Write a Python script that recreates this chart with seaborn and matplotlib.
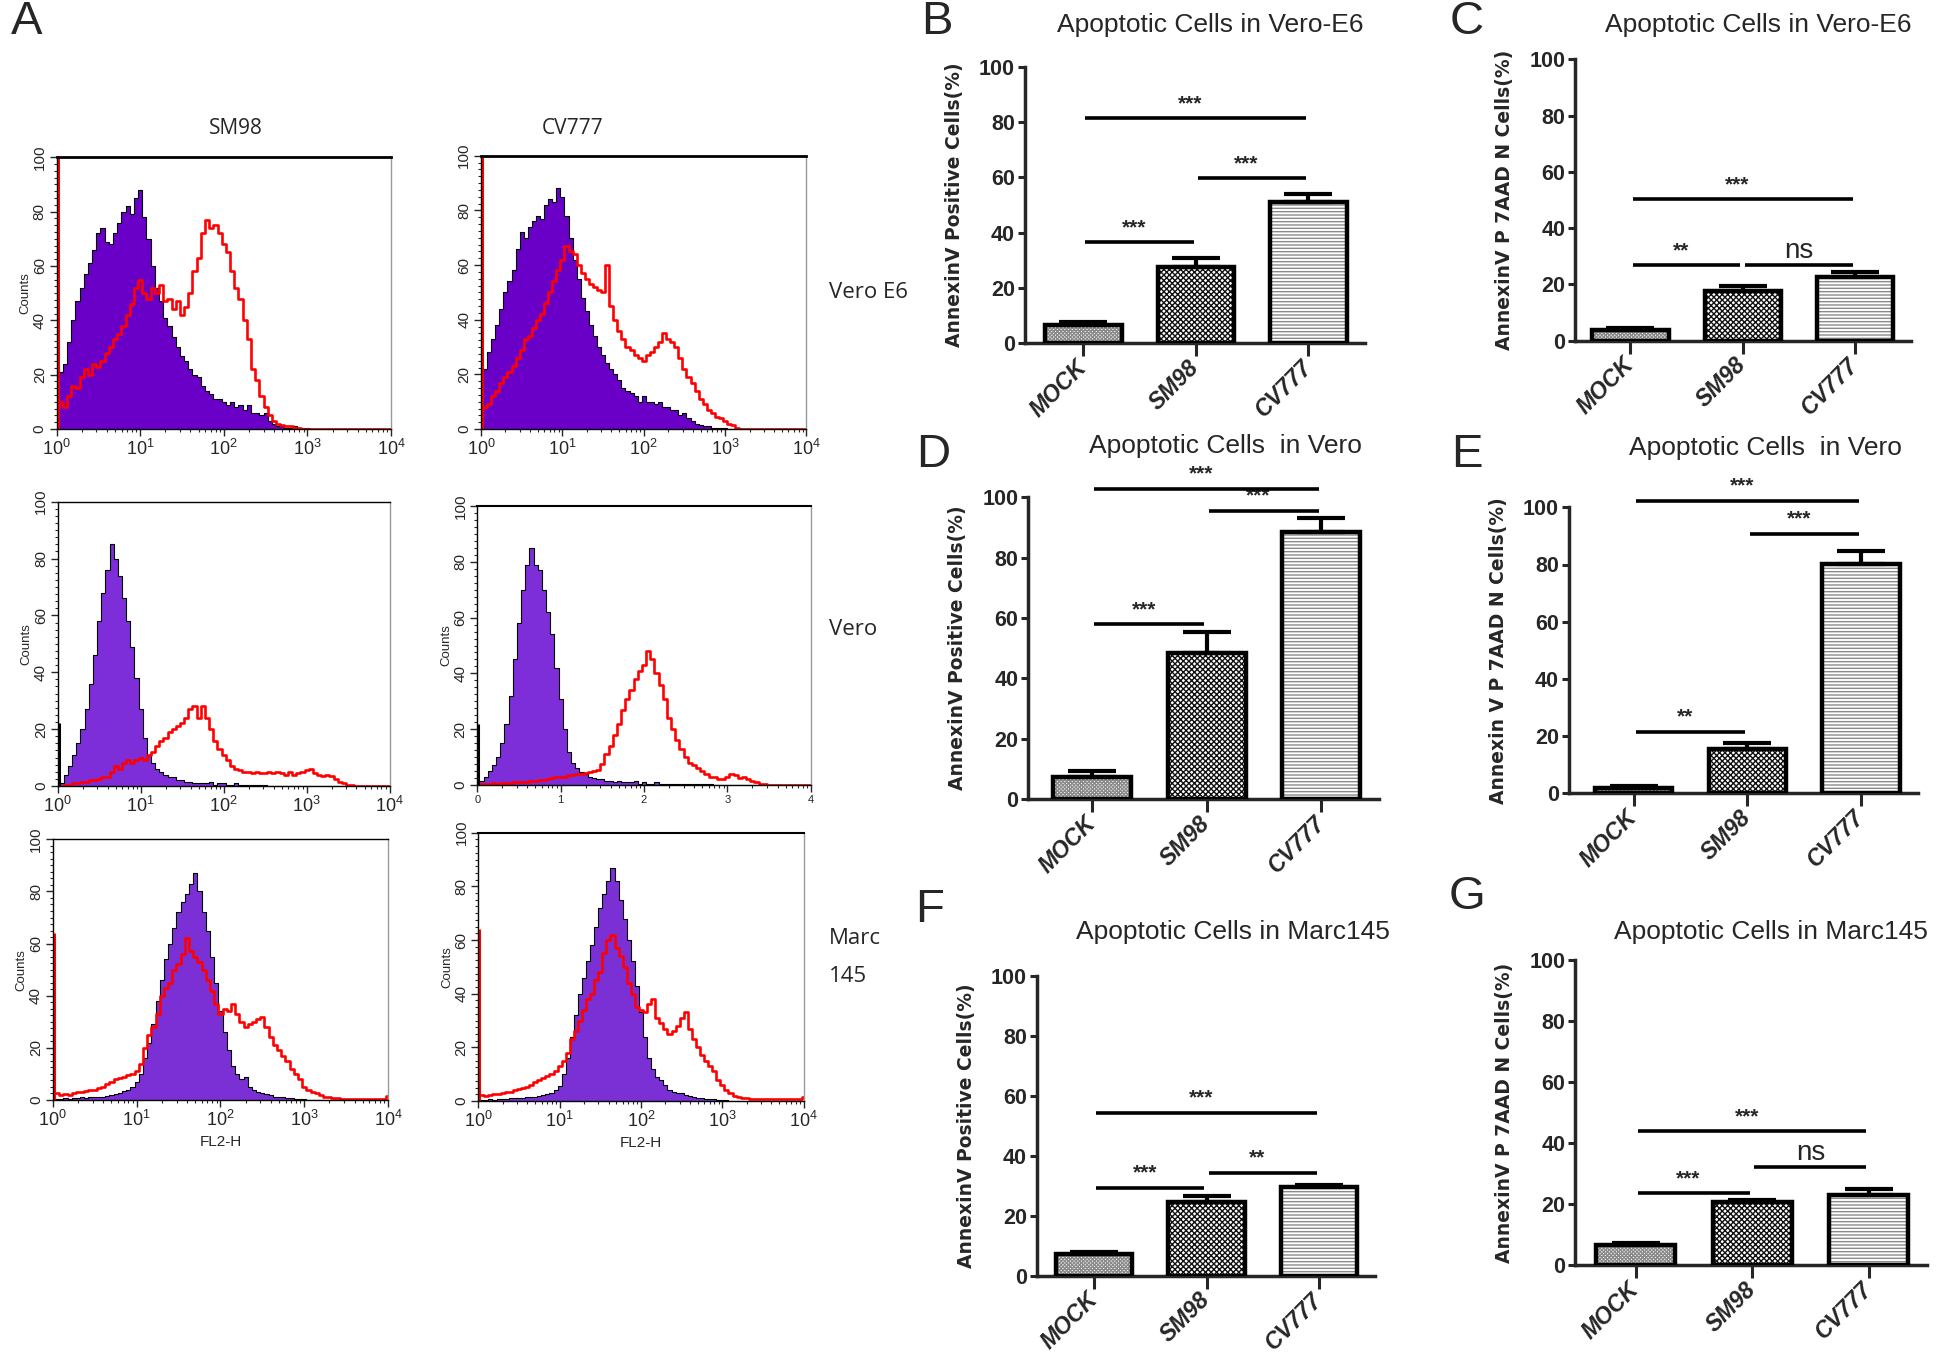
import numpy as np
import pandas as pd
import seaborn as sns
import matplotlib.pyplot as plt
from matplotlib.ticker import MultipleLocator, LogLocator, NullFormatter
from matplotlib.transforms import ScaledTranslation

# ---- flow cytometry histograms (counts per 0.05-decade FL2-H bin, starting at 10^0) ----
e6_mock_a = [19, 21, 24, 32, 40, 47, 52, 57, 61, 66, 72, 74, 69, 68, 72, 76, 80, 82, 79, 85,
             88, 78, 70, 60, 52, 47, 41, 38, 34, 30, 27, 25, 22, 20, 19, 16, 14, 13, 11, 11,
             10, 9, 10, 8, 9, 7, 9, 6, 6, 5, 6, 3, 2, 1, 1, 0.5, 0.5, 1, 0.5, 0.5, 0.5]
e6_sm98 = [8, 10, 8, 12, 16, 15, 19, 22, 20, 24, 23, 25, 28, 30, 33, 35, 38, 42, 46, 52,
           55, 50, 48, 52, 50, 53, 47, 48, 44, 47, 42, 45, 50, 58, 63, 72, 77, 74, 75, 72,
           68, 65, 58, 52, 48, 40, 33, 22, 18, 12, 8, 5, 3, 2, 1.5, 1, 1, 0.5, 0.5]
e6_mock_b = [12, 22, 28, 33, 38, 44, 50, 54, 58, 66, 72, 70, 74, 76, 78, 77, 82, 84, 83, 88,
             85, 78, 70, 62, 55, 48, 43, 38, 34, 30, 27, 24, 22, 20, 18, 15, 14, 13, 12, 10,
             12, 10, 10, 9, 10, 8, 8, 7, 7, 5, 6, 4, 3, 2, 1.5, 1, 1, 0.5, 0.5, 0.5, 0.3]
e6_cv777 = [7, 8, 9, 12, 14, 17, 19, 21, 23, 26, 29, 33, 34, 37, 40, 42, 46, 50, 54, 58,
            62, 67, 65, 64, 60, 57, 55, 53, 52, 51, 50, 60, 45, 40, 36, 33, 30, 29, 27, 26,
            25, 27, 28, 30, 32, 35, 33, 32, 30, 26, 22, 19, 17, 14, 11, 9, 7, 6, 4.5, 4,
            3, 2, 1.5, 0.5, 0]
vero_mock_a = [2, 1, 4, 7, 11, 15, 20, 27, 36, 46, 58, 68, 76, 85, 80, 74, 66, 58, 49, 38,
               27, 17, 11, 8, 6, 5, 4, 3, 3, 2, 2, 1.5, 1.5, 1, 1, 1, 1, 1.5, 0.5, 1,
               1, 0.5, 0.5, 1, 0.5, 0.5, 0.5, 0.3, 0.3, 0.3, 0.2]
vero_sm98 = [0, 0, 0.5, 0.5, 1, 1, 1.5, 1.5, 2, 2, 2.5, 3, 3, 5, 7, 6, 8, 9, 8, 9,
             10, 9, 11, 12, 14, 16, 17, 19, 20, 21, 22, 24, 27, 28, 24, 28, 24, 20, 16, 13,
             11, 9, 7, 6, 5.5, 5, 5, 4.5, 5, 4.5, 4.5, 5, 4.5, 5, 4.5, 4, 5, 4, 4.5, 5,
             5.5, 6, 4.5, 4, 3.5, 4, 3.5, 2.5, 1.5, 1, 0.5, 0.5, 0]
vero_mock_b = [2, 1.5, 3, 5, 7, 10, 15, 22, 32, 45, 58, 70, 79, 85, 79, 77, 70, 62, 54, 42,
               31, 20, 12, 8, 6, 4.5, 4, 3, 2.5, 2, 2, 1.5, 1.5, 1, 1.5, 1, 1, 1, 1.5, 0.5,
               1, 0.5, 0.5, 1, 0.5, 0.5, 0.5, 0.4, 0.4, 0.3, 0.3, 0.3, 0.3, 0.3, 0.2, 0.2, 0.2]
vero_cv777 = [0, 0.2, 0.3, 0.5, 0.6, 0.5, 0.8, 0.7, 0.8, 1, 1, 1.2, 1.2, 1.5, 1.6, 1.8, 1.8, 2.2, 2.4, 2.8,
              3, 3, 3.5, 3.6, 3.8, 4, 4.2, 4.6, 5, 5.5, 7.5, 11, 14, 18, 22, 27, 31, 34, 38, 41,
              43, 48, 45, 40, 36, 31, 24, 20, 16, 13, 10, 8, 7, 6, 5, 4, 3, 3, 2, 2,
              3, 4, 3.5, 2.5, 3, 2, 1.5, 1, 0.5, 0.3, 0]
marc_mock_a = [1, 0.5, 0.5, 0.8, 0.5, 0.8, 0.6, 1, 0.8, 1, 1.2, 1, 1.3, 1.6, 2, 2.2, 2.8, 3.5, 4, 5,
               7, 10, 16, 22, 29, 38, 46, 54, 60, 66, 72, 76, 79, 83, 87, 80, 72, 65, 55, 45,
               34, 26, 19, 13, 10, 8, 9, 5, 3.8, 3, 2.6, 2.2, 1.8, 1.3, 1.2, 1, 0.9, 0.7, 0.5, 0.4,
               0.2, 0]
marc_sm98 = [2.6, 2.6, 2, 2.2, 2, 2.6, 3, 3.2, 3.5, 3.8, 4, 4.5, 5, 6, 7, 8, 8.5, 9, 9.5, 10,
             11, 14, 20, 25, 28, 33, 40, 43, 45, 50, 52, 56, 62, 57, 55, 53, 50, 46, 42, 37,
             33, 35, 34, 37, 33, 30, 28, 29, 30, 31, 32, 28, 24, 21, 19, 17, 15, 12, 10, 8,
             5, 4, 3, 2.5, 1.8, 1.3, 1, 0.8, 0.6, 0.5, 0.5, 0.5, 0.5, 0.5, 0.5, 0.5, 0.5, 0.5, 0.5, 0.5,
             1.5]
marc_mock_b = [0.5, 0.5, 0.5, 0.6, 0.5, 0.7, 0.8, 0.8, 1, 1, 1.2, 1.2, 1.4, 1.5, 1.6, 1.8, 2.2, 2.6, 3, 4,
               5.5, 10, 16, 24, 32, 40, 46, 52, 58, 65, 72, 77, 82, 87, 82, 75, 68, 60, 52, 43,
               33, 24, 16, 12, 9, 8, 6, 4, 3.5, 3, 3, 2.4, 2, 1.6, 1.2, 1, 0.8, 0.7, 0.6, 0.5,
               0.4, 0.2, 0]
marc_cv777 = [2.2, 2.2, 2, 2.2, 2.5, 2.6, 2.9, 3.2, 3.5, 4, 4.3, 5, 5.3, 6, 7, 7.8, 8.5, 9.5, 10, 11,
              13, 15, 18, 23, 26, 30, 34, 38, 40, 45, 48, 55, 60, 62, 57, 54, 50, 44, 40, 35,
              34, 33, 36, 38, 31, 29, 27, 25, 26, 28, 31, 33, 27, 23, 20, 17, 15, 13, 11, 8,
              6, 4, 3, 2, 1.6, 1.3, 1, 0.8, 0.7, 0.7, 0.7, 0.7, 0.7, 0.7, 0.7, 0.7, 0.7, 0.7, 0.7, 0.7,
              1.6]
# first-channel pile-up spikes at 10^0
spike_e6, spike_vero, spike_marc = 100, 22, 64

# ---- bar charts: mean and upper SEM ----
groups = ["MOCK", "SM98", "CV777"]
b_means, b_errs = [6.6, 27.7, 51.0], [1.0, 3.3, 2.9]
c_means, c_errs = [3.8, 17.7, 22.5], [0.6, 1.7, 2.0]
d_means, d_errs = [7.4, 48.5, 88.4], [2.0, 6.7, 4.9]
e_means, e_errs = [1.7, 15.5, 80.1], [0.9, 2.0, 4.7]
f_means, f_errs = [7.1, 24.7, 29.6], [0.9, 1.9, 0.8]
g_means, g_errs = [6.4, 20.7, 23.0], [0.9, 0.6, 1.8]
# significance brackets: (group i, group j, height, label)
b_sigs = [(0, 2, 81.3, "***"), (1, 2, 59.6, "***"), (0, 1, 36.5, "***")]
c_sigs = [(0, 2, 50.2, "***"), (0, 1, 26.8, "**"), (1, 2, 26.8, "ns")]
d_sigs = [(0, 2, 102.8, "***"), (1, 2, 95.5, "***"), (0, 1, 57.9, "***")]
e_sigs = [(0, 2, 102.3, "***"), (1, 2, 90.8, "***"), (0, 1, 21.6, "**")]
f_sigs = [(0, 2, 54.3, "***"), (1, 2, 34.3, "**"), (0, 1, 29.4, "***")]
g_sigs = [(0, 2, 43.9, "***"), (1, 2, 32.0, "ns"), (0, 1, 23.5, "***")]

sns.set_style("ticks")
plt.rcParams["font.family"] = ["Liberation Sans", "DejaVu Sans"]
plt.rcParams["mathtext.default"] = "regular"
plt.rcParams["hatch.linewidth"] = 1.0
NARROW = ["Liberation Sans Narrow", "Liberation Sans", "DejaVu Sans"]

W, H = 1945, 1356
fig = plt.figure(figsize=(W / 100, H / 100), dpi=100)


def place(x0, x1, y_top, y_bot):
    return fig.add_axes([x0 / W, 1 - y_bot / H, (x1 - x0) / W, (y_bot - y_top) / H])


def ftext(x, y, s, **kw):
    fig.text(x / W, 1 - y / H, s, **kw)


def hist_panel(ax, mock, infected, spike, spike_color, fill_color,
               counts=True, fl2=False, short_x=False, top_lw=1.0):
    x = 10 ** (np.arange(81) * 0.05)
    m = np.zeros(81)
    m[:len(mock)] = mock
    r = np.zeros(81)
    r[:len(infected)] = infected
    ax.set_xscale("log")
    ax.fill_between(x, m, step="mid", color=fill_color, lw=0)
    sns.lineplot(x=x, y=m, drawstyle="steps-mid", color="black", lw=0.8, ax=ax)
    sns.lineplot(x=x, y=r, drawstyle="steps-mid", color="red", lw=1.9, ax=ax)
    ax.vlines(1.03, 0, spike, color=spike_color, lw=2.2)
    ax.set_xlim(1, 1e4)
    ax.set_ylim(0, 100)
    ax.set_xticks([1, 10, 100, 1000, 10000])
    if short_x:
        ax.set_xticklabels(["0", "1", "2", "3", "4"], fontsize=8)
    else:
        ax.set_xticklabels([r"$10^0$", r"$10^1$", r"$10^2$", r"$10^3$", r"$10^4$"], fontsize=13)
    ax.xaxis.set_minor_locator(LogLocator(base=10, subs=np.arange(2, 10)))
    ax.xaxis.set_minor_formatter(NullFormatter())
    ax.set_yticks([0, 20, 40, 60, 80, 100])
    ax.set_yticklabels(["0", "20", "40", "60", "80", "100"], rotation=90, va="center", fontsize=11)
    ax.yaxis.set_minor_locator(MultipleLocator(2.5))
    ax.tick_params(axis="both", which="major", length=5, width=1, pad=2)
    ax.tick_params(axis="both", which="minor", length=2.5, width=0.8)
    for side, sp in ax.spines.items():
        sp.set_linewidth(1.0)
        sp.set_color("black")
    ax.spines["right"].set_color("#999999")
    ax.spines["top"].set_linewidth(top_lw)
    ax.set_ylabel("Counts" if counts else "", fontsize=9.5, labelpad=1)
    ax.set_xlabel("FL2-H" if fl2 else "", fontsize=11, labelpad=4)


hist_rows = [
    (place(56.5, 391, 157.3, 429), e6_mock_a, e6_sm98, spike_e6, "red", "#6a00c8", True, False, False, 2.0),
    (place(481, 806.4, 155.7, 429), e6_mock_b, e6_cv777, spike_e6, "red", "#6a00c8", False, False, False, 2.0),
    (place(57.6, 389.5, 501.7, 786), vero_mock_a, vero_sm98, spike_vero, "black", "#7d2ed8", True, False, False, 1.0),
    (place(477.2, 810.7, 506, 785), vero_mock_b, vero_cv777, spike_vero, "black", "#7d2ed8", True, False, True, 1.5),
    (place(52.8, 388, 839.3, 1100), marc_mock_a, marc_sm98, spike_marc, "red", "#7b30d6", True, True, False, 1.0),
    (place(478.2, 803.7, 832.7, 1101), marc_mock_b, marc_cv777, spike_marc, "red", "#7b30d6", True, True, False, 1.5),
]
for ax, mk, inf, sp, spc, fc, cnt, fl2, shx, tlw in hist_rows:
    hist_panel(ax, mk, inf, sp, spc, fc, counts=cnt, fl2=fl2, short_x=shx, top_lw=tlw)

ftext(27, 22, "A", fontsize=34, ha="center", va="center")
ftext(236, 128, "SM98", fontsize=15, ha="center", va="center", family=["Open Sans", "DejaVu Sans"])
ftext(573, 128, "CV777", fontsize=15, ha="center", va="center", family=["Open Sans", "DejaVu Sans"])
for yy, s in [(293, "Vero E6"), (630, "Vero"), (939, "Marc"), (977, "145")]:
    ftext(829, yy, s, fontsize=16, ha="left", va="center", family=["Open Sans", "DejaVu Sans"])

# ---- bar panels ----
hatches = ["x" * 9, "x" * 6, "-" * 5]
hatch_colors = ["#8a8a8a", "#111111", "#8a8a8a"]


def bar_panel(ax, means, errs, sigs, ylabel, xleft):
    df = pd.DataFrame({"group": groups, "value": means})
    sns.barplot(data=df, x="group", y="value", ax=ax, color="white", width=0.68,
                errorbar=None, saturation=1, linewidth=0)
    for patch, hatch, hc in zip(ax.patches, hatches, hatch_colors):
        patch.set_facecolor("white")
        patch.set_hatch(hatch)
        patch.set_edgecolor(hc)
        patch.set_linewidth(0)
    ax.bar(range(3), means, width=0.68, fill=False, edgecolor="black", linewidth=3.2, zorder=3)
    ax.errorbar(range(3), means, yerr=[[0, 0, 0], errs], fmt="none", ecolor="black",
                elinewidth=3, capsize=17, capthick=3, zorder=4)
    for i, j, y, lab in sigs:
        ax.plot([i + 0.02, j - 0.02], [y, y], color="black", lw=2.6, clip_on=False,
                solid_capstyle="butt", zorder=5)
        if lab == "ns":
            ax.annotate(lab, ((i + j) / 2, y), xytext=(0, 1), textcoords="offset points",
                        ha="center", va="bottom", fontsize=20, family=NARROW, annotation_clip=False)
        else:
            ax.annotate(lab, ((i + j) / 2, y), xytext=(-4, 10.5), textcoords="offset points",
                        ha="center", va="center", fontsize=15, fontweight="bold",
                        family=NARROW, annotation_clip=False)
    ax.set_xlim(xleft, 2.5)
    ax.set_ylim(0, 100)
    ax.set_yticks([0, 20, 40, 60, 80, 100])
    ax.set_yticklabels(["0", "20", "40", "60", "80", "100"], fontsize=15.5, fontweight="bold", family=NARROW)
    ax.set_xticks(range(3))
    ax.set_xticklabels(groups, rotation=45, ha="right", va="center", rotation_mode="anchor",
                       fontsize=16.5, fontweight="bold", fontstyle="italic")
    shift = ScaledTranslation(0.10, 0.04, fig.dpi_scale_trans)
    for lbl in ax.get_xticklabels():
        lbl.set_transform(lbl.get_transform() + shift)
    ax.tick_params(axis="x", length=9, width=2.2, pad=6)
    ax.tick_params(axis="y", length=5, width=2.2, pad=2)
    sns.despine(ax=ax)
    ax.spines["left"].set_linewidth(2.5)
    ax.spines["bottom"].set_linewidth(2.5)
    ax.set_xlabel("")
    ax.set_ylabel(ylabel, fontsize=13.5, fontweight="bold", family=["DejaVu Sans"])
    width_px = ax.get_position().width * W
    ax.yaxis.set_label_coords(-61 / width_px, 0.5)


lab_pos = "AnnexinV Positive Cells(%)"
lab_pn = "AnnexinV P 7AAD N Cells(%)"
bar_rows = [
    (place(1024.7, 1364.7, 66.7, 343.3), b_means, b_errs, b_sigs, lab_pos, -0.52,
     "B", (937, 22), "Apoptotic Cells in Vero-E6", (1210, 25)),
    (place(1575.3, 1911.3, 59.3, 340.7), c_means, c_errs, c_sigs, lab_pn, -0.49,
     "C", (1467, 22), "Apoptotic Cells in Vero-E6", (1758, 25)),
    (place(1028, 1378.7, 497.3, 799), d_means, d_errs, d_sigs, lab_pos, -0.56,
     "D", (933, 455), "Apoptotic Cells  in Vero", (1225, 446)),
    (place(1568.7, 1918, 507.3, 793.3), e_means, e_errs, e_sigs, "Annexin V P 7AAD N Cells(%)", -0.57,
     "E", (1467, 455), "Apoptotic Cells  in Vero", (1765, 448)),
    (place(1036.7, 1375.3, 975.7, 1275.7), f_means, f_errs, f_sigs, lab_pos, -0.51,
     "F", (930, 910), "Apoptotic Cells in Marc145", (1233, 932)),
    (place(1575.3, 1926.7, 960, 1265), g_means, g_errs, g_sigs, lab_pn, -0.52,
     "G", (1467, 897), "Apoptotic Cells in Marc145", (1771, 932)),
]
for ax, means, errs, sigs, ylab, xl, letter, lpos, title, tpos in bar_rows:
    bar_panel(ax, means, errs, sigs, ylab, xl)
    ftext(lpos[0], lpos[1], letter, fontsize=34, ha="center", va="center")
    ftext(tpos[0], tpos[1], title, fontsize=19, ha="center", va="center", family=NARROW)

fig.savefig("out.png", dpi=100)
